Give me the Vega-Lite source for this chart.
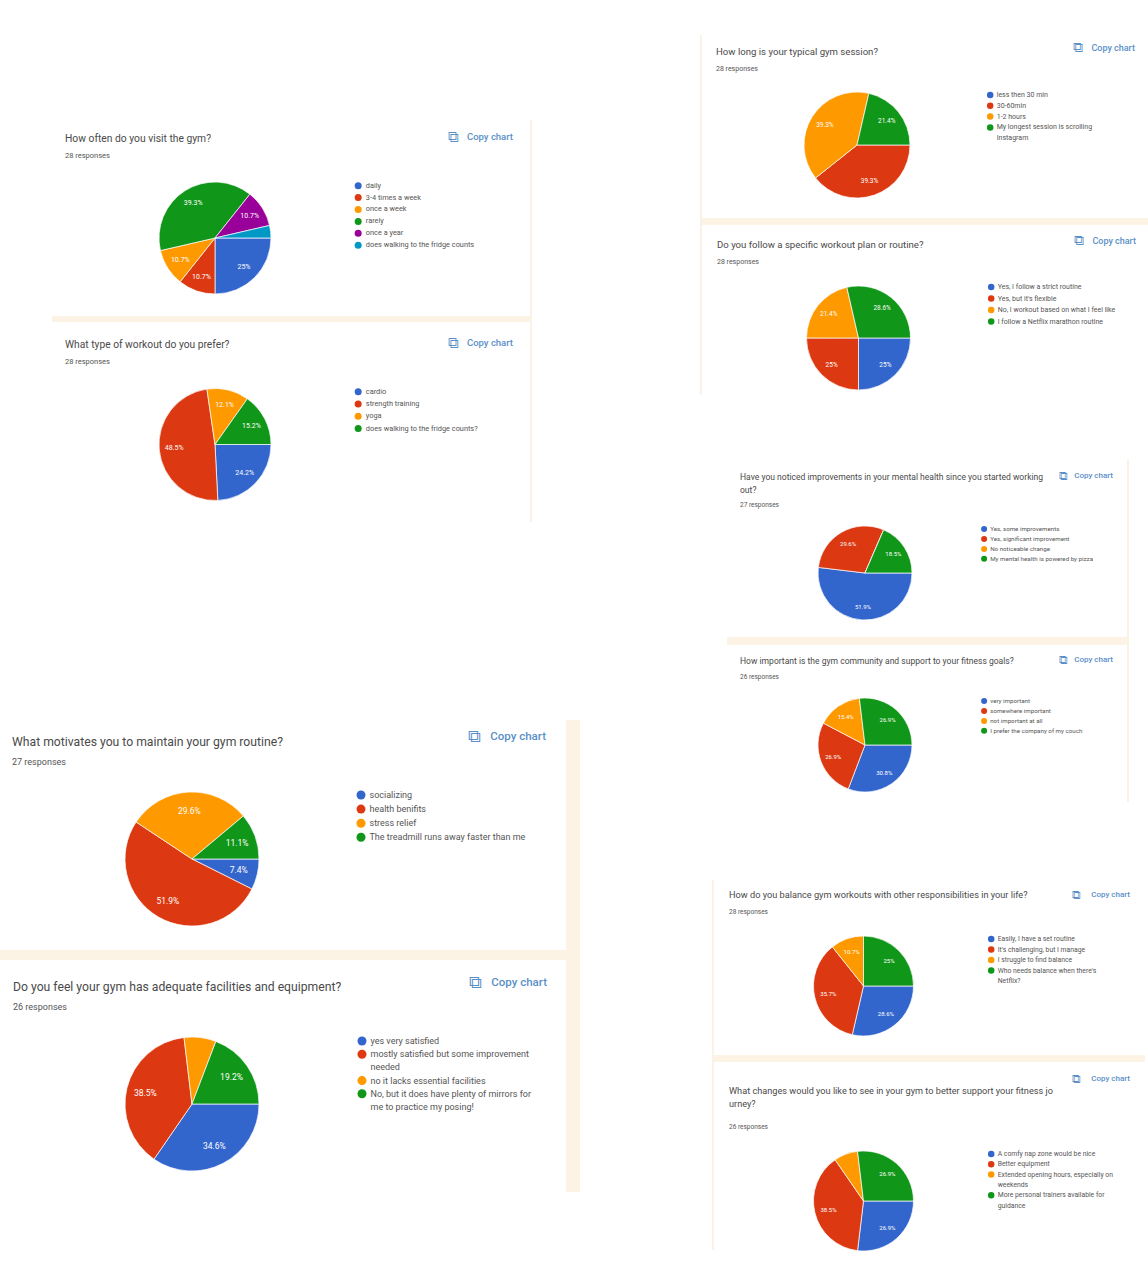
{"$schema":"https://vega.github.io/schema/vega-lite/v6.json","padding":0,"autosize":"pad","background":"white","spacing":120,"bounds":"full",
"resolve":{"scale":{"color":"independent","theta":"independent"},"legend":{"color":"independent"}},
"config":{"view":{"stroke":null},"title":{"anchor":"start","frame":"group","font":"Roboto","fontWeight":400,"color":"#4a4a4a","subtitleFont":"Roboto","subtitleColor":"#555555"},"legend":{"symbolType":"circle","labelFont":"Roboto","labelColor":"#555555","symbolStrokeWidth":0,"labelLimit":1000,"padding":0,"titlePadding":0},"text":{"font":"Roboto"}},
"hconcat":[
{"resolve":{"scale":{"color":"independent","theta":"independent"},"legend":{"color":"independent"}},"vconcat":[
 {"spacing":0,"resolve":{"scale":{"color":"independent","theta":"independent"},"legend":{"color":"independent"}},"hconcat":[
  {"width":52,"height":1,"data":{"values":[{}]},"mark":{"type":"rect","opacity":0}},
  {"bounds":"flush","spacing":0,"resolve":{"scale":{"color":"independent","theta":"independent"},"legend":{"color":"independent"}},"vconcat":[
   {"width":1,"height":160,"data":{"values":[{}]},"mark":{"type":"rect","opacity":0}},
   {"width":326,"height":156,"title":{"text":"How often do you visit the gym?","subtitle":"28 responses","dx":13,"fontSize":10.3,"subtitleFontSize":7.5,"subtitlePadding":7,"offset":-29},
    "layer":[
    {"data":{"values":[{"answer":"daily","share":25,"rank":1,"label":"25%"},{"answer":"3-4 times a week","share":10.7,"rank":2,"label":"10.7%"},{"answer":"once a week","share":10.7,"rank":3,"label":"10.7%"},{"answer":"rarely","share":39.3,"rank":4,"label":"39.3%"},{"answer":"once a year","share":10.7,"rank":5,"label":"10.7%"},{"answer":"does walking to the fridge counts","share":3.6,"rank":6,"label":""}]},
     "layer":[
      {"mark":{"type":"arc","radius":56,"stroke":"white","strokeWidth":0.7},"encoding":{"theta":{"field":"share","type":"quantitative","stack":true,"scale":{"range":[1.5708,7.854]}},"order":{"field":"rank"},"color":{"field":"answer","type":"nominal","scale":{"domain":["daily","3-4 times a week","once a week","rarely","once a year","does walking to the fridge counts"],"range":["#3366cc","#dc3912","#ff9900","#109618","#990099","#0099c6"]},"legend":{"title":null,"orient":"none","legendX":302.5,"legendY":22,"labelFontSize":7.35,"symbolSize":49,"rowPadding":2.9,"labelOffset":4}}}},
      {"mark":{"type":"text","radius":41,"fontSize":7,"fill":"#ffffff","align":"center","baseline":"middle"},"encoding":{"theta":{"field":"share","type":"quantitative","stack":true,"scale":{"range":[1.5708,7.854]}},"order":{"field":"rank"},"text":{"field":"label"}}}]},
    {"data":{"values":[{"action":"Copy chart"}]},"mark":{"type":"text","dx":135,"dy":-23,"align":"right","baseline":"middle","fontSize":9.5,"fontWeight":500,"fill":"#5a8fc8"},"encoding":{"x":{"datum":1,"type":"quantitative","scale":{"domain":[0,1]},"axis":null},"y":{"datum":1,"type":"quantitative","scale":{"domain":[0,1]},"axis":null},"text":{"field":"action"}}},
    {"data":{"values":[{"icon":"⧉"}]},"mark":{"type":"text","dx":75,"dy":-23,"align":"center","baseline":"middle","fontSize":15,"fill":"#5a8fc8"},"encoding":{"x":{"datum":1,"type":"quantitative","scale":{"domain":[0,1]},"axis":null},"y":{"datum":1,"type":"quantitative","scale":{"domain":[0,1]},"axis":null},"text":{"field":"icon"}}}]},
   {"width":478,"height":6,"data":{"values":[{}]},"mark":{"type":"rect","color":"#fdf3e4"}},
   {"width":1,"height":62,"data":{"values":[{}]},"mark":{"type":"rect","opacity":0}},
   {"width":326,"height":121,"title":{"text":"What type of workout do you prefer?","subtitle":"28 responses","dx":13,"fontSize":10.25,"subtitleFontSize":7.5,"subtitlePadding":7,"offset":-29},
    "layer":[
    {"data":{"values":[{"answer":"cardio","share":24.2,"rank":1,"label":"24.2%"},{"answer":"strength training","share":48.5,"rank":2,"label":"48.5%"},{"answer":"yoga","share":12.1,"rank":3,"label":"12.1%"},{"answer":"does walking to the fridge counts?","share":15.2,"rank":4,"label":"15.2%"}]},
     "layer":[
      {"mark":{"type":"arc","radius":56,"stroke":"white","strokeWidth":0.7},"encoding":{"theta":{"field":"share","type":"quantitative","stack":true,"scale":{"range":[1.5708,7.854]}},"order":{"field":"rank"},"color":{"field":"answer","type":"nominal","scale":{"domain":["cardio","strength training","yoga","does walking to the fridge counts?"],"range":["#3366cc","#dc3912","#ff9900","#109618"]},"legend":{"title":null,"orient":"none","legendX":302.5,"legendY":4,"labelFontSize":7.35,"symbolSize":49,"rowPadding":3.3,"labelOffset":4}}}},
      {"mark":{"type":"text","radius":41,"fontSize":7,"fill":"#ffffff","align":"center","baseline":"middle"},"encoding":{"theta":{"field":"share","type":"quantitative","stack":true,"scale":{"range":[1.5708,7.854]}},"order":{"field":"rank"},"text":{"field":"label"}}}]},
    {"data":{"values":[{"action":"Copy chart"}]},"mark":{"type":"text","dx":135,"dy":-41,"align":"right","baseline":"middle","fontSize":9.5,"fontWeight":500,"fill":"#5a8fc8"},"encoding":{"x":{"datum":1,"type":"quantitative","scale":{"domain":[0,1]},"axis":null},"y":{"datum":1,"type":"quantitative","scale":{"domain":[0,1]},"axis":null},"text":{"field":"action"}}},
    {"data":{"values":[{"icon":"⧉"}]},"mark":{"type":"text","dx":75,"dy":-41,"align":"center","baseline":"middle","fontSize":15,"fill":"#5a8fc8"},"encoding":{"x":{"datum":1,"type":"quantitative","scale":{"domain":[0,1]},"axis":null},"y":{"datum":1,"type":"quantitative","scale":{"domain":[0,1]},"axis":null},"text":{"field":"icon"}}}]},
   {"width":1,"height":215,"data":{"values":[{}]},"mark":{"type":"rect","opacity":0}}
  ]},
  {"bounds":"flush","spacing":0,"vconcat":[
   {"width":1,"height":120,"data":{"values":[{}]},"mark":{"type":"rect","opacity":0}},
   {"width":2,"height":402,"data":{"values":[{}]},"mark":{"type":"rect","color":"#f9f2e7"}}
  ]}
 ]},
 {"spacing":0,"resolve":{"scale":{"color":"independent","theta":"independent"},"legend":{"color":"independent"}},"hconcat":[
  {"bounds":"flush","spacing":0,"resolve":{"scale":{"color":"independent","theta":"independent"},"legend":{"color":"independent"}},"vconcat":[
   {"width":1,"height":70,"data":{"values":[{}]},"mark":{"type":"rect","opacity":0}},
   {"width":384,"height":138,"title":{"text":"What motivates you to maintain your gym routine?","subtitle":"27 responses","dx":12,"fontSize":12.2,"subtitleFontSize":9,"subtitlePadding":10,"offset":-39},
    "layer":[
    {"data":{"values":[{"answer":"socializing","share":7.4,"rank":1,"label":"7.4%"},{"answer":"health benifits","share":51.9,"rank":2,"label":"51.9%"},{"answer":"stress relief","share":29.6,"rank":3,"label":"29.6%"},{"answer":"The treadmill runs away faster than me","share":11.1,"rank":4,"label":"11.1%"}]},
     "layer":[
      {"mark":{"type":"arc","radius":67,"stroke":"white","strokeWidth":0.7},"encoding":{"theta":{"field":"share","type":"quantitative","stack":true,"scale":{"range":[1.5708,7.854]}},"order":{"field":"rank"},"color":{"field":"answer","type":"nominal","scale":{"domain":["socializing","health benifits","stress relief","The treadmill runs away faster than me"],"range":["#3366cc","#dc3912","#ff9900","#109618"]},"legend":{"title":null,"orient":"none","legendX":356.5,"legendY":0.5,"labelFontSize":9,"symbolSize":81,"rowPadding":4.1,"labelOffset":4}}}},
      {"mark":{"type":"text","radius":48,"fontSize":8.5,"fill":"#ffffff","align":"center","baseline":"middle"},"encoding":{"theta":{"field":"share","type":"quantitative","stack":true,"scale":{"range":[1.5708,7.854]}},"order":{"field":"rank"},"text":{"field":"label"}}}]},
    {"data":{"values":[{"action":"Copy chart"}]},"mark":{"type":"text","dx":162,"dy":-53,"align":"right","baseline":"middle","fontSize":11.5,"fontWeight":500,"fill":"#5a8fc8"},"encoding":{"x":{"datum":1,"type":"quantitative","scale":{"domain":[0,1]},"axis":null},"y":{"datum":1,"type":"quantitative","scale":{"domain":[0,1]},"axis":null},"text":{"field":"action"}}},
    {"data":{"values":[{"icon":"⧉"}]},"mark":{"type":"text","dx":90,"dy":-53,"align":"center","baseline":"middle","fontSize":18,"fill":"#5a8fc8"},"encoding":{"x":{"datum":1,"type":"quantitative","scale":{"domain":[0,1]},"axis":null},"y":{"datum":1,"type":"quantitative","scale":{"domain":[0,1]},"axis":null},"text":{"field":"icon"}}}]},
   {"width":1,"height":22,"data":{"values":[{}]},"mark":{"type":"rect","opacity":0}},
   {"width":566,"height":10,"data":{"values":[{}]},"mark":{"type":"rect","color":"#fdf3e4"}},
   {"width":1,"height":75,"data":{"values":[{}]},"mark":{"type":"rect","opacity":0}},
   {"width":384,"height":138,"title":{"text":"Do you feel your gym has adequate facilities and equipment?","subtitle":"26 responses","dx":13,"fontSize":12.2,"subtitleFontSize":9,"subtitlePadding":10,"offset":-38},
    "layer":[
    {"data":{"values":[{"answer":"yes very satisfied","share":34.6,"rank":1,"label":"34.6%"},{"answer":"mostly satisfied but some improvement","share":38.5,"rank":2,"label":"38.5%"},{"answer":"no it lacks essential facilities","share":7.7,"rank":3,"label":""},{"answer":"No, but it does have plenty of mirrors for","share":19.2,"rank":4,"label":"19.2%"}]},
     "layer":[
      {"mark":{"type":"arc","radius":67,"stroke":"white","strokeWidth":0.7},"encoding":{"theta":{"field":"share","type":"quantitative","stack":true,"scale":{"range":[1.5708,7.854]}},"order":{"field":"rank"},"color":{"field":"answer","type":"nominal","scale":{"domain":["yes very satisfied","mostly satisfied but some improvement","needed","no it lacks essential facilities","No, but it does have plenty of mirrors for","me to practice my posing!"],"range":["#3366cc","#dc3912","transparent","#ff9900","#109618","transparent"]},"legend":{"title":null,"orient":"none","legendX":357.5,"legendY":1.5,"labelFontSize":9,"symbolSize":81,"rowPadding":3.2,"labelOffset":4}}}},
      {"mark":{"type":"text","radius":48,"fontSize":8.5,"fill":"#ffffff","align":"center","baseline":"middle"},"encoding":{"theta":{"field":"share","type":"quantitative","stack":true,"scale":{"range":[1.5708,7.854]}},"order":{"field":"rank"},"text":{"field":"label"}}}]},
    {"data":{"values":[{"action":"Copy chart"}]},"mark":{"type":"text","dx":163,"dy":-52,"align":"right","baseline":"middle","fontSize":11.5,"fontWeight":500,"fill":"#5a8fc8"},"encoding":{"x":{"datum":1,"type":"quantitative","scale":{"domain":[0,1]},"axis":null},"y":{"datum":1,"type":"quantitative","scale":{"domain":[0,1]},"axis":null},"text":{"field":"action"}}},
    {"data":{"values":[{"icon":"⧉"}]},"mark":{"type":"text","dx":91,"dy":-52,"align":"center","baseline":"middle","fontSize":18,"fill":"#5a8fc8"},"encoding":{"x":{"datum":1,"type":"quantitative","scale":{"domain":[0,1]},"axis":null},"y":{"datum":1,"type":"quantitative","scale":{"domain":[0,1]},"axis":null},"text":{"field":"icon"}}}]}
  ]},
  {"width":14,"height":472,"data":{"values":[{}]},"mark":{"type":"rect","color":"#fdf3e4"}}
 ]}
],"spacing":0},
{"resolve":{"scale":{"color":"independent","theta":"independent"},"legend":{"color":"independent"}},"vconcat":[
 {"spacing":0,"resolve":{"scale":{"color":"independent","theta":"independent"},"legend":{"color":"independent"}},"hconcat":[
 {"bounds":"flush","spacing":0,"vconcat":[
   {"width":1,"height":35,"data":{"values":[{}]},"mark":{"type":"rect","opacity":0}},
   {"width":2,"height":360,"data":{"values":[{}]},"mark":{"type":"rect","color":"#f9f2e7"}}
 ]},
 {"bounds":"flush","spacing":0,"resolve":{"scale":{"color":"independent","theta":"independent"},"legend":{"color":"independent"}},"vconcat":[
   {"width":1,"height":90,"data":{"values":[{}]},"mark":{"type":"rect","opacity":0}},
   {"width":310,"height":110,"title":{"text":"How long is your typical gym session?","subtitle":"28 responses","dx":14,"fontSize":9.6,"subtitleFontSize":7,"subtitlePadding":8,"offset":-31},
    "layer":[
    {"data":{"values":[{"answer":"less then 30 min","share":0,"rank":1,"label":""},{"answer":"30-60min","share":39.3,"rank":2,"label":"39.3%"},{"answer":"1-2 hours","share":39.3,"rank":3,"label":"39.3%"},{"answer":"My longest session is scrolling","share":21.4,"rank":4,"label":"21.4%"}]},
     "layer":[
      {"mark":{"type":"arc","radius":53,"stroke":"white","strokeWidth":0.7},"encoding":{"theta":{"field":"share","type":"quantitative","stack":true,"scale":{"range":[1.5708,7.854]}},"order":{"field":"rank"},"color":{"field":"answer","type":"nominal","scale":{"domain":["less then 30 min","30-60min","1-2 hours","My longest session is scrolling","Instagram"],"range":["#3366cc","#dc3912","#ff9900","#109618","transparent"]},"legend":{"title":null,"orient":"none","legendX":284.7,"legendY":1.5,"labelFontSize":7,"symbolSize":42,"rowPadding":2.8,"labelOffset":3}}}},
      {"mark":{"type":"text","radius":38,"fontSize":6.5,"fill":"#ffffff","align":"center","baseline":"middle"},"encoding":{"theta":{"field":"share","type":"quantitative","stack":true,"scale":{"range":[1.5708,7.854]}},"order":{"field":"rank"},"text":{"field":"label"}}}]},
    {"data":{"values":[{"action":"Copy chart"}]},"mark":{"type":"text","dx":123,"dy":-42,"align":"right","baseline":"middle","fontSize":9,"fontWeight":500,"fill":"#5a8fc8"},"encoding":{"x":{"datum":1,"type":"quantitative","scale":{"domain":[0,1]},"axis":null},"y":{"datum":1,"type":"quantitative","scale":{"domain":[0,1]},"axis":null},"text":{"field":"action"}}},
    {"data":{"values":[{"icon":"⧉"}]},"mark":{"type":"text","dx":66,"dy":-42,"align":"center","baseline":"middle","fontSize":14,"fill":"#5a8fc8"},"encoding":{"x":{"datum":1,"type":"quantitative","scale":{"domain":[0,1]},"axis":null},"y":{"datum":1,"type":"quantitative","scale":{"domain":[0,1]},"axis":null},"text":{"field":"icon"}}}]},
   {"width":1,"height":18,"data":{"values":[{}]},"mark":{"type":"rect","opacity":0}},
   {"width":446,"height":7,"data":{"values":[{}]},"mark":{"type":"rect","color":"#fdf3e4"}},
   {"width":1,"height":59,"data":{"values":[{}]},"mark":{"type":"rect","opacity":0}},
   {"width":313,"height":108,"title":{"text":"Do you follow a specific workout plan or routine?","subtitle":"28 responses","dx":15,"fontSize":9.6,"subtitleFontSize":7,"subtitlePadding":8,"offset":-31},
    "layer":[
    {"data":{"values":[{"answer":"Yes, I follow a strict routine","share":25,"rank":1,"label":"25%"},{"answer":"Yes, but it's flexible","share":25,"rank":2,"label":"25%"},{"answer":"No, I workout based on what I feel like","share":21.4,"rank":3,"label":"21.4%"},{"answer":"I follow a Netflix marathon routine","share":28.6,"rank":4,"label":"28.6%"}]},
     "layer":[
      {"mark":{"type":"arc","radius":52,"stroke":"white","strokeWidth":0.7},"encoding":{"theta":{"field":"share","type":"quantitative","stack":true,"scale":{"range":[1.5708,7.854]}},"order":{"field":"rank"},"color":{"field":"answer","type":"nominal","scale":{"domain":["Yes, I follow a strict routine","Yes, but it's flexible","No, I workout based on what I feel like","I follow a Netflix marathon routine"],"range":["#3366cc","#dc3912","#ff9900","#109618"]},"legend":{"title":null,"orient":"none","legendX":285.7,"legendY":-0.5,"labelFontSize":7,"symbolSize":42,"rowPadding":3.5,"labelOffset":3}}}},
      {"mark":{"type":"text","radius":38,"fontSize":6.5,"fill":"#ffffff","align":"center","baseline":"middle"},"encoding":{"theta":{"field":"share","type":"quantitative","stack":true,"scale":{"range":[1.5708,7.854]}},"order":{"field":"rank"},"text":{"field":"label"}}}]},
    {"data":{"values":[{"action":"Copy chart"}]},"mark":{"type":"text","dx":121,"dy":-43,"align":"right","baseline":"middle","fontSize":9,"fontWeight":500,"fill":"#5a8fc8"},"encoding":{"x":{"datum":1,"type":"quantitative","scale":{"domain":[0,1]},"axis":null},"y":{"datum":1,"type":"quantitative","scale":{"domain":[0,1]},"axis":null},"text":{"field":"action"}}},
    {"data":{"values":[{"icon":"⧉"}]},"mark":{"type":"text","dx":64,"dy":-43,"align":"center","baseline":"middle","fontSize":14,"fill":"#5a8fc8"},"encoding":{"x":{"datum":1,"type":"quantitative","scale":{"domain":[0,1]},"axis":null},"y":{"datum":1,"type":"quantitative","scale":{"domain":[0,1]},"axis":null},"text":{"field":"icon"}}}]},
   {"width":1,"height":3,"data":{"values":[{}]},"mark":{"type":"rect","opacity":0}}
 ]}
 ]},
 {"spacing":0,"resolve":{"scale":{"color":"independent","theta":"independent"},"legend":{"color":"independent"}},"hconcat":[
  {"width":27,"height":1,"data":{"values":[{}]},"mark":{"type":"rect","opacity":0}},
  {"bounds":"flush","spacing":0,"resolve":{"scale":{"color":"independent","theta":"independent"},"legend":{"color":"independent"}},"vconcat":[
   {"width":1,"height":129,"data":{"values":[{}]},"mark":{"type":"rect","opacity":0}},
   {"width":276,"height":98,"title":{"text":["Have you noticed improvements in your mental health since you started working","out?"],"subtitle":"27 responses","dx":13,"fontSize":8.55,"lineHeight":13,"subtitleFontSize":6.5,"subtitlePadding":7,"offset":-38},
    "layer":[
    {"data":{"values":[{"answer":"Yes, some improvements","share":51.9,"rank":1,"label":"51.9%"},{"answer":"Yes, significant improvement","share":29.6,"rank":2,"label":"29.6%"},{"answer":"No noticeable change","share":0,"rank":3,"label":""},{"answer":"My mental health is powered by pizza","share":18.5,"rank":4,"label":"18.5%"}]},
     "layer":[
      {"mark":{"type":"arc","radius":47,"stroke":"white","strokeWidth":0.7},"encoding":{"theta":{"field":"share","type":"quantitative","stack":true,"scale":{"range":[1.5708,7.854]}},"order":{"field":"rank"},"color":{"field":"answer","type":"nominal","scale":{"domain":["Yes, some improvements","Yes, significant improvement","No noticeable change","My mental health is powered by pizza"],"range":["#3366cc","#dc3912","#ff9900","#109618"]},"legend":{"title":null,"orient":"none","legendX":254,"legendY":2,"labelFontSize":6.2,"symbolSize":36,"rowPadding":2.9,"labelOffset":3}}}},
      {"mark":{"type":"text","radius":34,"fontSize":6,"fill":"#ffffff","align":"center","baseline":"middle"},"encoding":{"theta":{"field":"share","type":"quantitative","stack":true,"scale":{"range":[1.5708,7.854]}},"order":{"field":"rank"},"text":{"field":"label"}}}]},
    {"data":{"values":[{"action":"Copy chart"}]},"mark":{"type":"text","dx":110,"dy":-48,"align":"right","baseline":"middle","fontSize":8,"fontWeight":500,"fill":"#5a8fc8"},"encoding":{"x":{"datum":1,"type":"quantitative","scale":{"domain":[0,1]},"axis":null},"y":{"datum":1,"type":"quantitative","scale":{"domain":[0,1]},"axis":null},"text":{"field":"action"}}},
    {"data":{"values":[{"icon":"⧉"}]},"mark":{"type":"text","dx":60,"dy":-48,"align":"center","baseline":"middle","fontSize":12,"fill":"#5a8fc8"},"encoding":{"x":{"datum":1,"type":"quantitative","scale":{"domain":[0,1]},"axis":null},"y":{"datum":1,"type":"quantitative","scale":{"domain":[0,1]},"axis":null},"text":{"field":"icon"}}}]},
   {"width":1,"height":15,"data":{"values":[{}]},"mark":{"type":"rect","opacity":0}},
   {"width":400,"height":8,"data":{"values":[{}]},"mark":{"type":"rect","color":"#fdf3e4"}},
   {"width":1,"height":51,"data":{"values":[{}]},"mark":{"type":"rect","opacity":0}},
   {"width":276,"height":98,"title":{"text":"How important is the gym community and support to your fitness goals?","subtitle":"26 responses","dx":13,"fontSize":8.55,"subtitleFontSize":6.5,"subtitlePadding":8,"offset":-26},
    "layer":[
    {"data":{"values":[{"answer":"very important","share":30.8,"rank":1,"label":"30.8%"},{"answer":"somewhere important","share":26.9,"rank":2,"label":"26.9%"},{"answer":"not important at all","share":15.4,"rank":3,"label":"15.4%"},{"answer":"I prefer the company of my couch","share":26.9,"rank":4,"label":"26.9%"}]},
     "layer":[
      {"mark":{"type":"arc","radius":47,"stroke":"white","strokeWidth":0.7},"encoding":{"theta":{"field":"share","type":"quantitative","stack":true,"scale":{"range":[1.5708,7.854]}},"order":{"field":"rank"},"color":{"field":"answer","type":"nominal","scale":{"domain":["very important","somewhere important","not important at all","I prefer the company of my couch"],"range":["#3366cc","#dc3912","#ff9900","#109618"]},"legend":{"title":null,"orient":"none","legendX":254,"legendY":2,"labelFontSize":6.2,"symbolSize":36,"rowPadding":2.9,"labelOffset":3}}}},
      {"mark":{"type":"text","radius":34,"fontSize":6,"fill":"#ffffff","align":"center","baseline":"middle"},"encoding":{"theta":{"field":"share","type":"quantitative","stack":true,"scale":{"range":[1.5708,7.854]}},"order":{"field":"rank"},"text":{"field":"label"}}}]},
    {"data":{"values":[{"action":"Copy chart"}]},"mark":{"type":"text","dx":110,"dy":-36,"align":"right","baseline":"middle","fontSize":8,"fontWeight":500,"fill":"#5a8fc8"},"encoding":{"x":{"datum":1,"type":"quantitative","scale":{"domain":[0,1]},"axis":null},"y":{"datum":1,"type":"quantitative","scale":{"domain":[0,1]},"axis":null},"text":{"field":"action"}}},
    {"data":{"values":[{"icon":"⧉"}]},"mark":{"type":"text","dx":60,"dy":-36,"align":"center","baseline":"middle","fontSize":12,"fill":"#5a8fc8"},"encoding":{"x":{"datum":1,"type":"quantitative","scale":{"domain":[0,1]},"axis":null},"y":{"datum":1,"type":"quantitative","scale":{"domain":[0,1]},"axis":null},"text":{"field":"icon"}}}]},
   {"width":1,"height":86,"data":{"values":[{}]},"mark":{"type":"rect","opacity":0}}
  ]},
  {"bounds":"flush","spacing":0,"vconcat":[
   {"width":1,"height":65,"data":{"values":[{}]},"mark":{"type":"rect","opacity":0}},
   {"width":2,"height":342,"data":{"values":[{}]},"mark":{"type":"rect","color":"#f9f2e7"}}
  ]}
 ]},
 {"spacing":0,"resolve":{"scale":{"color":"independent","theta":"independent"},"legend":{"color":"independent"}},"hconcat":[
  {"width":12,"height":1,"data":{"values":[{}]},"mark":{"type":"rect","opacity":0}},
  {"width":2,"height":370,"data":{"values":[{}]},"mark":{"type":"rect","color":"#f9f2e7"}},
  {"bounds":"flush","spacing":0,"resolve":{"scale":{"color":"independent","theta":"independent"},"legend":{"color":"independent"}},"vconcat":[
   {"width":1,"height":54,"data":{"values":[{}]},"mark":{"type":"rect","opacity":0}},
   {"width":299,"height":104,"title":{"text":"How do you balance gym workouts with other responsibilities in your life?","subtitle":"28 responses","dx":15,"fontSize":9.2,"subtitleFontSize":6.5,"subtitlePadding":8,"offset":-26},
    "layer":[
    {"data":{"values":[{"answer":"Easily, I have a set routine","share":28.6,"rank":1,"label":"28.6%"},{"answer":"It's challenging, but I manage","share":35.7,"rank":2,"label":"35.7%"},{"answer":"I struggle to find balance","share":10.7,"rank":3,"label":"10.7%"},{"answer":"Who needs balance when there's","share":25,"rank":4,"label":"25%"}]},
     "layer":[
      {"mark":{"type":"arc","radius":50,"stroke":"white","strokeWidth":0.7},"encoding":{"theta":{"field":"share","type":"quantitative","stack":true,"scale":{"range":[1.5708,7.854]}},"order":{"field":"rank"},"color":{"field":"answer","type":"nominal","scale":{"domain":["Easily, I have a set routine","It's challenging, but I manage","I struggle to find balance","Who needs balance when there's","Netflix?"],"range":["#3366cc","#dc3912","#ff9900","#109618","transparent"]},"legend":{"title":null,"orient":"none","legendX":273.7,"legendY":1.5,"labelFontSize":6.8,"symbolSize":42,"rowPadding":2.5,"labelOffset":3}}}},
      {"mark":{"type":"text","radius":36,"fontSize":6,"fill":"#ffffff","align":"center","baseline":"middle"},"encoding":{"theta":{"field":"share","type":"quantitative","stack":true,"scale":{"range":[1.5708,7.854]}},"order":{"field":"rank"},"text":{"field":"label"}}}]},
    {"data":{"values":[{"action":"Copy chart"}]},"mark":{"type":"text","dx":117,"dy":-39,"align":"right","baseline":"middle","fontSize":8,"fontWeight":500,"fill":"#5a8fc8"},"encoding":{"x":{"datum":1,"type":"quantitative","scale":{"domain":[0,1]},"axis":null},"y":{"datum":1,"type":"quantitative","scale":{"domain":[0,1]},"axis":null},"text":{"field":"action"}}},
    {"data":{"values":[{"icon":"⧉"}]},"mark":{"type":"text","dx":63,"dy":-39,"align":"center","baseline":"middle","fontSize":12,"fill":"#5a8fc8"},"encoding":{"x":{"datum":1,"type":"quantitative","scale":{"domain":[0,1]},"axis":null},"y":{"datum":1,"type":"quantitative","scale":{"domain":[0,1]},"axis":null},"text":{"field":"icon"}}}]},
   {"width":1,"height":17,"data":{"values":[{}]},"mark":{"type":"rect","opacity":0}},
   {"width":431,"height":7,"data":{"values":[{}]},"mark":{"type":"rect","color":"#fdf3e4"}},
   {"width":1,"height":87,"data":{"values":[{}]},"mark":{"type":"rect","opacity":0}},
   {"width":299,"height":104,"title":{"text":["What changes would you like to see in your gym to better support your fitness jo","urney?"],"subtitle":"26 responses","dx":15,"fontSize":9.17,"lineHeight":13,"subtitleFontSize":6.5,"subtitlePadding":14,"offset":-57},
    "layer":[
    {"data":{"values":[{"answer":"A comfy nap zone would be nice","share":26.9,"rank":1,"label":"26.9%"},{"answer":"Better equipment","share":38.5,"rank":2,"label":"38.5%"},{"answer":"Extended opening hours, especially on","share":7.7,"rank":3,"label":""},{"answer":"More personal trainers available for","share":26.9,"rank":4,"label":"26.9%"}]},
     "layer":[
      {"mark":{"type":"arc","radius":50,"stroke":"white","strokeWidth":0.7},"encoding":{"theta":{"field":"share","type":"quantitative","stack":true,"scale":{"range":[1.5708,7.854]}},"order":{"field":"rank"},"color":{"field":"answer","type":"nominal","scale":{"domain":["A comfy nap zone would be nice","Better equipment","Extended opening hours, especially on","weekends","More personal trainers available for","guidance"],"range":["#3366cc","#dc3912","#ff9900","transparent","#109618","transparent"]},"legend":{"title":null,"orient":"none","legendX":273.7,"legendY":1.5,"labelFontSize":6.8,"symbolSize":42,"rowPadding":2.3,"labelOffset":3}}}},
      {"mark":{"type":"text","radius":36,"fontSize":6,"fill":"#ffffff","align":"center","baseline":"middle"},"encoding":{"theta":{"field":"share","type":"quantitative","stack":true,"scale":{"range":[1.5708,7.854]}},"order":{"field":"rank"},"text":{"field":"label"}}}]},
    {"data":{"values":[{"action":"Copy chart"}]},"mark":{"type":"text","dx":117,"dy":-70,"align":"right","baseline":"middle","fontSize":8,"fontWeight":500,"fill":"#5a8fc8"},"encoding":{"x":{"datum":1,"type":"quantitative","scale":{"domain":[0,1]},"axis":null},"y":{"datum":1,"type":"quantitative","scale":{"domain":[0,1]},"axis":null},"text":{"field":"action"}}},
    {"data":{"values":[{"icon":"⧉"}]},"mark":{"type":"text","dx":63,"dy":-70,"align":"center","baseline":"middle","fontSize":12,"fill":"#5a8fc8"},"encoding":{"x":{"datum":1,"type":"quantitative","scale":{"domain":[0,1]},"axis":null},"y":{"datum":1,"type":"quantitative","scale":{"domain":[0,1]},"axis":null},"text":{"field":"icon"}}}]}
  ]}
 ]}
],"spacing":0}
]}
